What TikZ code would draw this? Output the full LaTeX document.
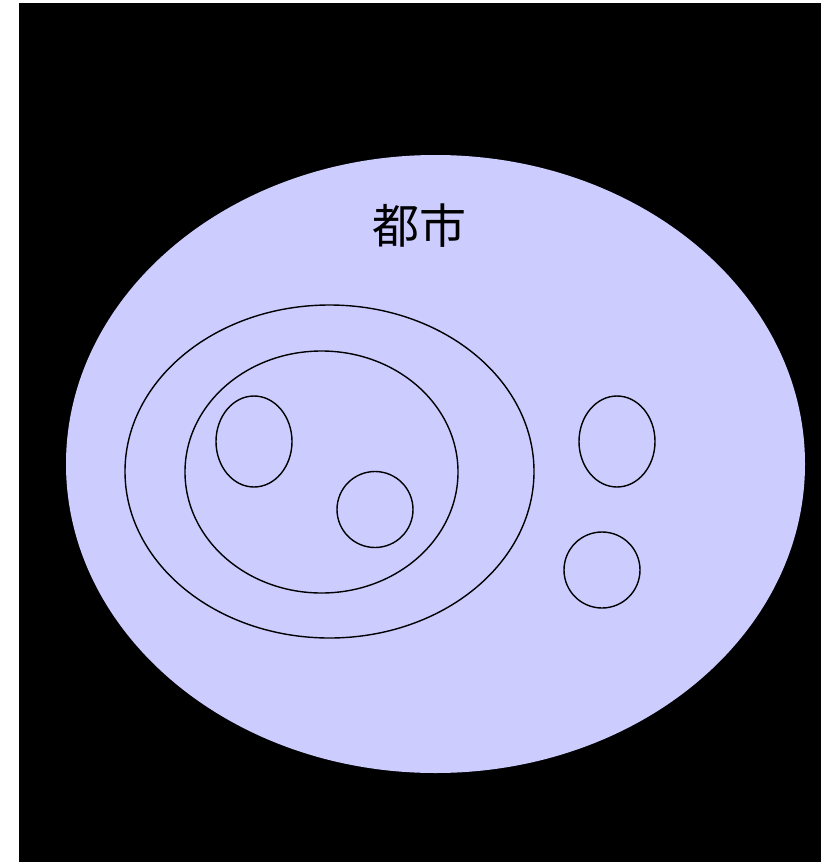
\documentclass[tikz,border=0pt]{standalone}
\usepackage{fontspec}
\newfontfamily\cjk{Noto Sans CJK JP}
\usetikzlibrary{shapes.geometric}
\definecolor{cityfill}{HTML}{CCCCFF}
\tikzset{
  region/.style={ellipse, draw=black, line width=1.4pt, inner sep=0pt, minimum width=#1},
}
\begin{document}
\begin{tikzpicture}[x=1pt,y=-1pt]
\useasboundingbox (0,0) rectangle (827,862);
\fill[black] (19,3) rectangle (821,862);
\node[ellipse, fill=cityfill, draw=none, inner sep=0pt, minimum width=739pt, minimum height=618pt] (city) at (435.5,464) {};
\node[region=409pt, minimum height=333pt] (outer) at (329.5,471.5) {};
\node[region=273pt, minimum height=242pt] (inner) at (321.5,472) {};
\node[region=76pt, minimum height=91pt] (a) at (254,441.5) {};
\node[region=76pt, minimum height=76pt] (b) at (375,509.5) {};
\node[region=76pt, minimum height=91pt] (c) at (617,441.5) {};
\node[region=76pt, minimum height=76pt] (d) at (602,570) {};
\node[font=\cjk\fontsize{47}{56}\selectfont] (label) at (419,226) {都市};
\end{tikzpicture}
\end{document}
